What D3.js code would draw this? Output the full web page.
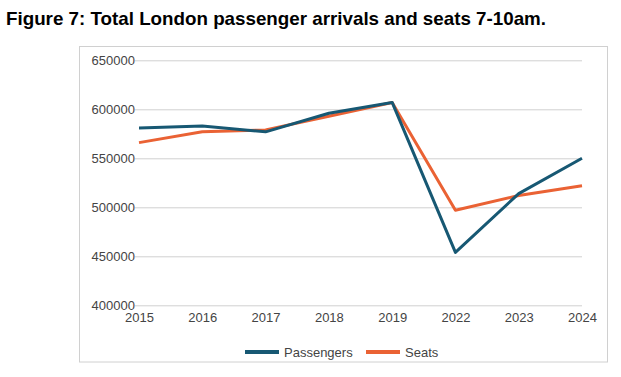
<!DOCTYPE html>
<html>
<head>
<meta charset="utf-8">
<script src="https://cdn.jsdelivr.net/npm/d3@7"></script>
<style>
  body { margin: 0; background: #fff; }
  text { font-family: "Liberation Sans", Arial, sans-serif; }
</style>
</head>
<body>
<div id="chart"></div>
<script>
const years = ["2015", "2016", "2017", "2018", "2019", "2022", "2023", "2024"];
const passengers = [581000, 583000, 577000, 596000, 607000, 454000, 514000, 550000];
const seats = [566000, 577000, 579000, 593000, 607000, 497000, 512000, 522000];
const yTicks = [400000, 450000, 500000, 550000, 600000, 650000];

const W = 621, H = 377;
const margin = {top: 60.3, right: 39, bottom: 71.7, left: 139};
const width = W - margin.left - margin.right,
    height = H - margin.top - margin.bottom;

const svg = d3.select("#chart")
    .append("svg")
    .attr("width", W)
    .attr("height", H);

svg.append("text")
    .attr("x", 6)
    .attr("y", 25)
    .attr("font-size", "18.5px")
    .attr("font-weight", "bold")
    .attr("fill", "#000")
    .attr("textLength", 540)
    .attr("lengthAdjust", "spacingAndGlyphs")
    .text("Figure 7: Total London passenger arrivals and seats 7-10am.");

// outer frame
svg.append("rect")
    .attr("x", 79.5)
    .attr("y", 46.5)
    .attr("width", 528)
    .attr("height", 315.5)
    .attr("fill", "none")
    .attr("stroke", "#d0d0d0")
    .attr("stroke-width", 1);

const g = svg.append("g")
    .attr("transform", `translate(${margin.left},${margin.top})`);

const x = d3.scalePoint()
    .domain(years)
    .range([0, width]);

const y = d3.scaleLinear()
    .domain([400000, 650000])
    .range([height, 0]);

// grid + y labels
g.append("g")
    .call(d3.axisLeft(y).tickValues(yTicks).tickSize(-width).tickFormat(d => d).tickPadding(4))
    .call(a => a.select(".domain").remove())
    .call(a => a.selectAll(".tick line").attr("stroke", "#d0d0d0").attr("x1", -4))
    .call(a => a.selectAll(".tick text")
        .attr("font-size", "13px")
        .attr("fill", "#444")
        .attr("font-family", "'Liberation Sans', Arial, sans-serif")
        .attr("dy", "0.3em"));

g.append("g")
    .attr("transform", `translate(0,${height})`)
    .call(d3.axisBottom(x).tickSize(0).tickPadding(7))
    .call(a => a.select(".domain").remove())
    .call(a => a.selectAll(".tick text")
        .attr("font-size", "13px")
        .attr("fill", "#444")
        .attr("font-family", "'Liberation Sans', Arial, sans-serif"));

const line = d3.line()
    .x((d, i) => x(years[i]))
    .y(d => y(d));

g.append("path")
    .datum(seats)
    .attr("fill", "none")
    .attr("stroke", "#ea6234")
    .attr("stroke-width", 3)
    .attr("stroke-linejoin", "round")
    .attr("d", line);

g.append("path")
    .datum(passengers)
    .attr("fill", "none")
    .attr("stroke", "#175873")
    .attr("stroke-width", 3)
    .attr("stroke-linejoin", "round")
    .attr("d", line);

// legend
const legend = [
    {name: "Passengers", color: "#175873", x: 245},
    {name: "Seats", color: "#ea6234", x: 366}
];
const lg = svg.selectAll(".legend")
    .data(legend)
    .enter()
    .append("g")
    .attr("transform", d => `translate(${d.x},352)`);
lg.append("line")
    .attr("x1", 0).attr("x2", 34)
    .attr("stroke", d => d.color)
    .attr("stroke-width", 4);
lg.append("text")
    .attr("x", 39)
    .attr("dy", "0.35em")
    .attr("font-size", "13px")
    .attr("fill", "#444")
    .text(d => d.name);
</script>
</body>
</html>
